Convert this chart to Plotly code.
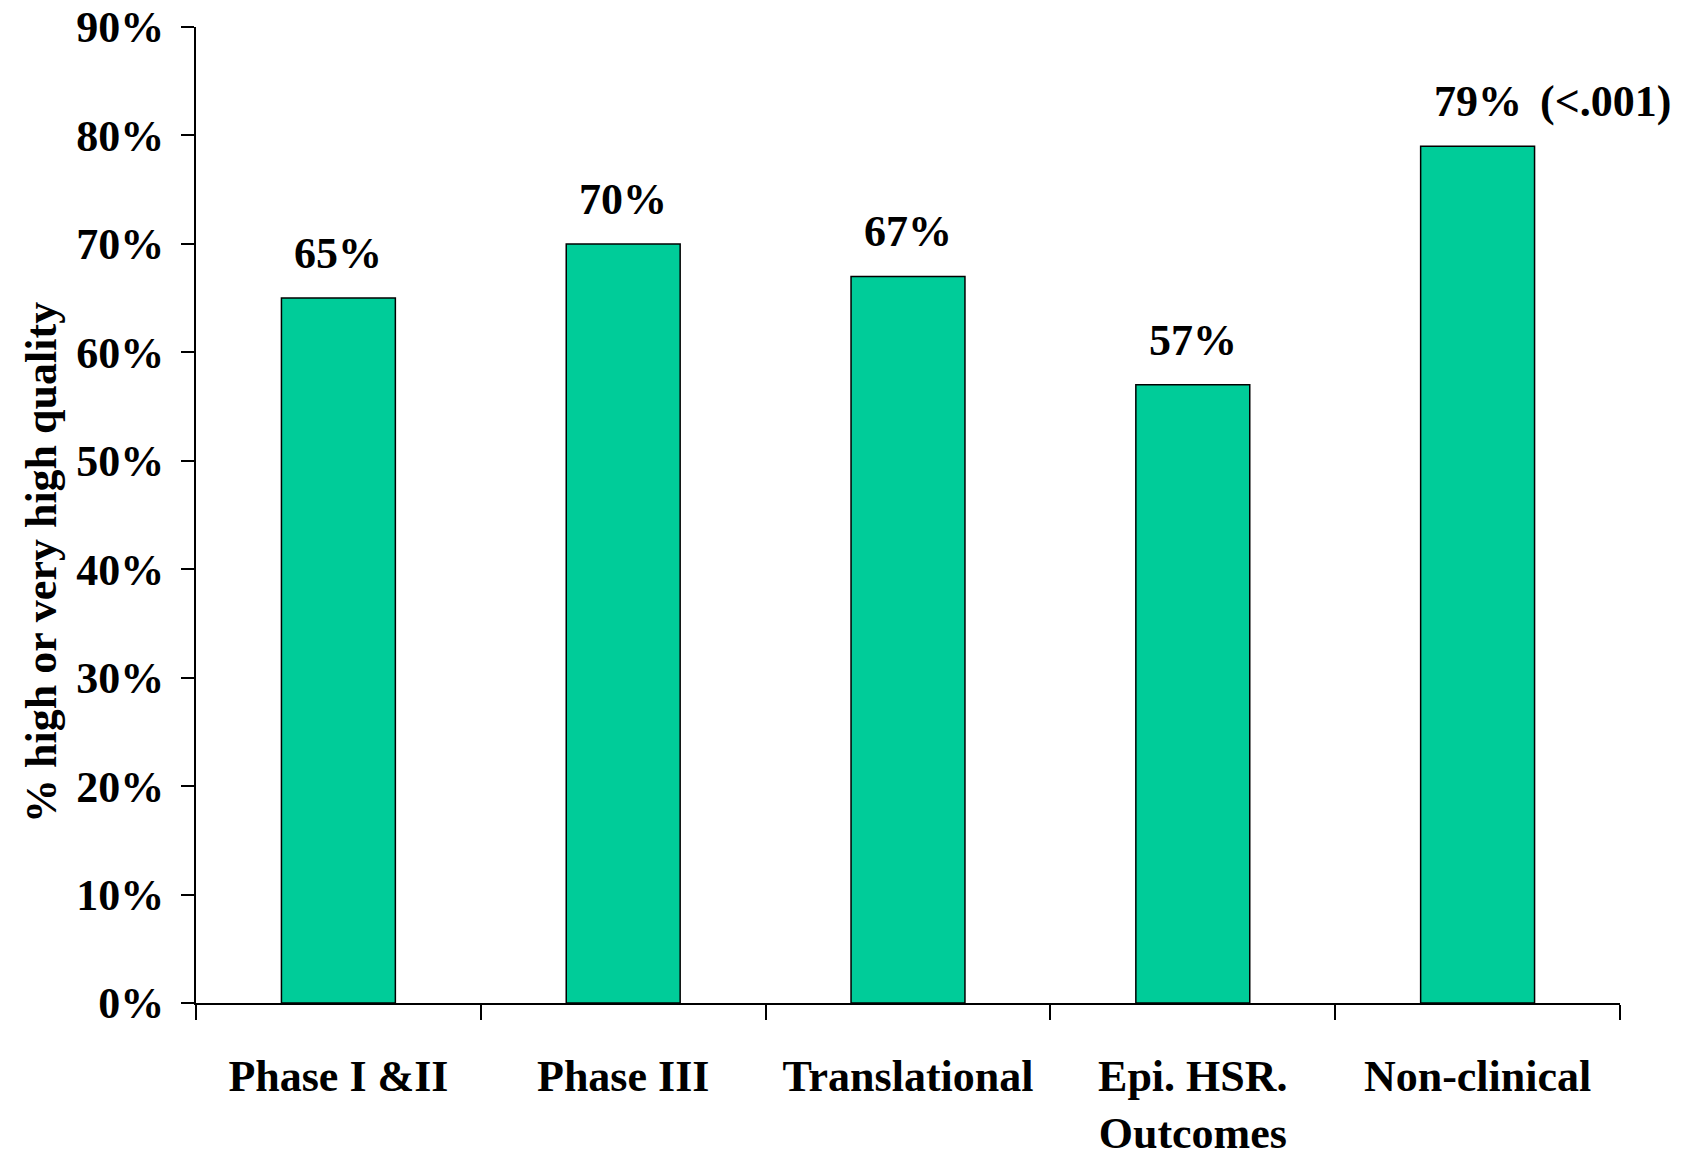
import plotly.graph_objects as go

# Share of projects rated high or very high quality, by research category
categories = ["Phase I &II", "Phase III", "Translational", "Epi. HSR.<br>Outcomes", "Non-clinical"]
values = [65, 70, 67, 57, 79]
p_notes = ["", "", "", "", "(<.001)"]
y_ticks = [0, 10, 20, 30, 40, 50, 60, 70, 80, 90]

FONT = "Liberation Serif, Times New Roman, serif"
BAR_COLOR = "#00CC99"
SIZE = 44

fig = go.Figure()
fig.add_trace(go.Bar(
    x=categories,
    y=values,
    width=0.4,
    marker=dict(color=BAR_COLOR, line=dict(color="black", width=1.5)),
    hoverinfo="x+y",
))

# Value labels above each bar, plus the p-value note where present
for cat, val, note in zip(categories, values, p_notes):
    fig.add_annotation(
        x=cat, y=val, text=f"<b>{val}%</b>",
        showarrow=False, xanchor="center", yanchor="bottom", yshift=18,
        font=dict(family=FONT, size=SIZE, color="black"),
    )
    if note:
        fig.add_annotation(
            x=cat, y=val, text=f"<b>{note}</b>",
            showarrow=False, xanchor="left", yanchor="bottom", yshift=18, xshift=60,
            font=dict(family=FONT, size=SIZE, color="black"),
        )

# Rotated y-axis title
fig.add_annotation(
    xref="paper", yref="paper", x=-0.108, y=0.451,
    text="<b>% high or very high quality</b>", textangle=-90,
    showarrow=False, xanchor="center", yanchor="middle",
    font=dict(family=FONT, size=SIZE, color="black"),
)

fig.update_layout(
    width=1684, height=1158,
    margin=dict(l=196, r=64, t=27, b=155),
    paper_bgcolor="white", plot_bgcolor="white",
    showlegend=False,
    font=dict(family=FONT, size=SIZE, color="black"),
)
fig.update_xaxes(
    type="category",
    range=[-0.5, len(categories) - 0.5],
    automargin=False,
    showline=True, linecolor="black", linewidth=2,
    ticks="outside", ticklen=15, tickwidth=2, tickcolor="black",
    tickson="boundaries",
    tickfont=dict(family=FONT, size=SIZE, color="black", weight="bold"),
    ticklabelstandoff=33,
    showgrid=False, zeroline=False,
)
fig.update_yaxes(
    range=[0, 90],
    automargin=False,
    tickvals=y_ticks, ticktext=[f"{t}%" for t in y_ticks],
    showline=True, linecolor="black", linewidth=2,
    ticks="outside", ticklen=13, tickwidth=2, tickcolor="black",
    tickfont=dict(family=FONT, size=SIZE, color="black", weight="bold"),
    ticklabelstandoff=8,
    showgrid=False, zeroline=False,
)

fig.write_html("out.html")
